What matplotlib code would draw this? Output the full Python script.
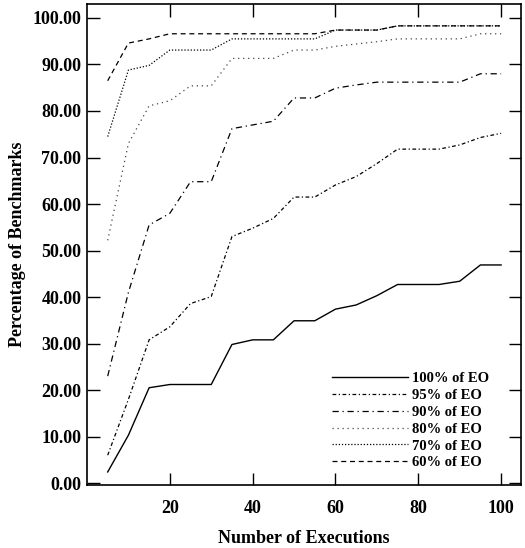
import matplotlib
matplotlib.use("Agg")
import matplotlib.pyplot as plt
from matplotlib.ticker import FormatStrFormatter, MultipleLocator

plt.rcParams['font.family'] = ['Liberation Serif', 'DejaVu Serif']
plt.rcParams['font.weight'] = 'bold'

executions = [5, 10, 15, 20, 25, 30, 35, 40, 45, 50,
              55, 60, 65, 70, 75, 80, 85, 90, 95, 100]

eo100 = [2.4, 10.3, 20.5, 21.2, 21.2, 21.2, 29.8, 30.8, 30.8, 34.9,
         34.9, 37.4, 38.3, 40.3, 42.7, 42.7, 42.7, 43.4, 46.9, 46.9]
eo95 = [6.0, 18.0, 30.8, 33.6, 38.6, 40.1, 53.0, 54.8, 56.9, 61.5,
        61.5, 64.1, 65.9, 68.7, 71.8, 71.8, 71.8, 72.7, 74.3, 75.2]
eo90 = [23.0, 41.0, 55.5, 58.0, 64.8, 64.8, 76.2, 77.0, 77.8, 82.8,
        82.8, 84.9, 85.6, 86.2, 86.2, 86.2, 86.2, 86.2, 88.0, 88.0]
eo80 = [52.2, 73.0, 81.1, 82.2, 85.4, 85.4, 91.3, 91.3, 91.3, 93.1,
        93.1, 93.9, 94.4, 94.9, 95.5, 95.5, 95.5, 95.5, 96.6, 96.6]
eo70 = [74.5, 88.8, 89.8, 93.1, 93.1, 93.1, 95.5, 95.5, 95.5, 95.5,
        95.5, 97.4, 97.4, 97.4, 98.3, 98.3, 98.3, 98.3, 98.3, 98.3]
eo60 = [86.5, 94.6, 95.5, 96.6, 96.6, 96.6, 96.6, 96.6, 96.6, 96.6,
        96.6, 97.4, 97.4, 97.4, 98.3, 98.3, 98.3, 98.3, 98.3, 98.3]

labels = ["100% of EO", "95% of EO", "90% of EO",
          "80% of EO", "70% of EO", "60% of EO"]

fig = plt.figure(figsize=(5.25, 5.48), dpi=100)
ax = fig.add_axes([0.1657, 0.115, 0.8267, 0.8777])

ax.plot(executions, eo100, color="black", lw=1.0, linestyle="-", label=labels[0])
ax.plot(executions, eo95, color="black", lw=0.9, linestyle=(0, (3, 2, 1, 2)), label=labels[1])
ax.plot(executions, eo90, color="black", lw=0.9, linestyle=(0, (5, 3, 1, 3)), label=labels[2])
ax.plot(executions, eo80, color="#444444", lw=0.9, linestyle=(0, (1, 3)), label=labels[3])
ax.plot(executions, eo70, color="black", lw=0.9, linestyle=(0, (1, 1.5)), label=labels[4])
ax.plot(executions, eo60, color="black", lw=0.9, linestyle=(0, (4, 3)), label=labels[5])

ax.set_xlim(0, 104.8)
ax.set_ylim(-0.4, 103)
ax.yaxis.set_major_locator(MultipleLocator(10))
ax.yaxis.set_major_formatter(FormatStrFormatter("%.2f"))
ax.set_xticks([20, 40, 60, 80, 100])

# ticks point inward on all four sides
ax.tick_params(axis="both", direction="in", length=9, width=1.0,
               top=True, right=True, labelsize=13)
ax.tick_params(axis="x", pad=11)
ax.tick_params(axis="y", pad=4)
for s in ax.spines.values():
    s.set_linewidth(1.2)

ax.set_xlabel("Number of Executions", fontsize=13, fontweight="bold", labelpad=9)
ax.set_ylabel("Percentage of Benchmarks", fontsize=13, fontweight="bold", labelpad=5)

ax.legend(loc="upper left", bbox_to_anchor=(0.565, 0.235), frameon=False,
          fontsize=10.5, handlelength=5.2, handletextpad=0.3,
          labelspacing=0.25, borderaxespad=0, borderpad=0)

fig.savefig("out.png", dpi=100)
